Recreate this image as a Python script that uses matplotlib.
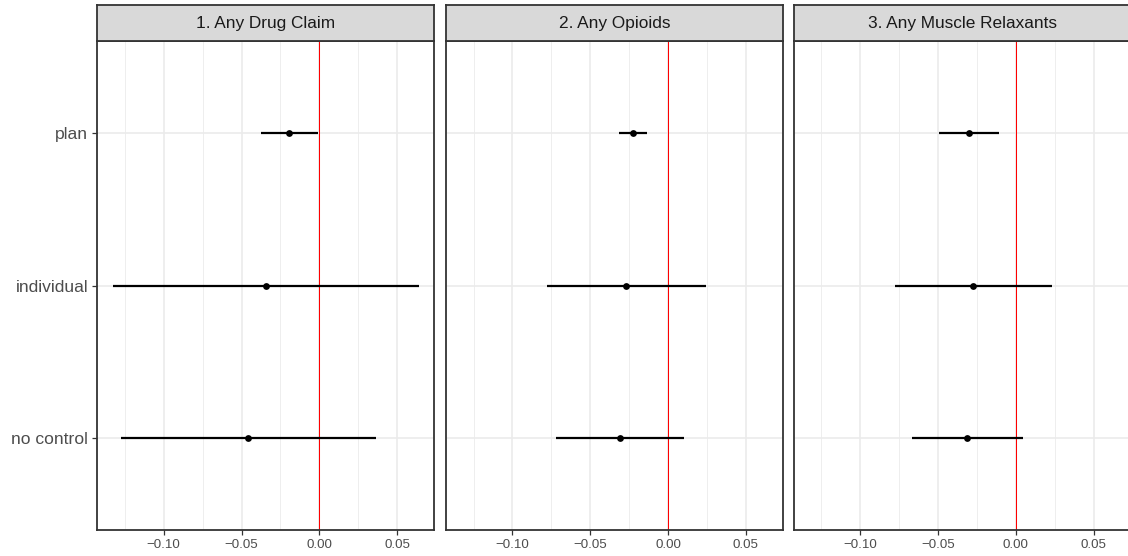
import matplotlib
matplotlib.use("Agg")
import matplotlib.pyplot as plt
from matplotlib.ticker import FixedLocator

plt.rcParams["font.family"] = ["Liberation Sans", "DejaVu Sans"]

# Coefficient estimates with confidence intervals, one panel per outcome
panels = ["1. Any Drug Claim", "2. Any Opioids", "3. Any Muscle Relaxants"]
categories = ["no control", "individual", "plan"]

drug_est = [-0.0460, -0.0343, -0.0193]
drug_lo = [-0.1276, -0.1324, -0.0375]
drug_hi = [0.0362, 0.0643, -0.0010]

opioid_est = [-0.0307, -0.0270, -0.0227]
opioid_lo = [-0.0719, -0.0780, -0.0315]
opioid_hi = [0.0103, 0.0242, -0.0137]

relax_est = [-0.0311, -0.0272, -0.0302]
relax_lo = [-0.0668, -0.0773, -0.0495]
relax_hi = [0.0045, 0.0231, -0.0107]

x_ticks = [-0.10, -0.05, 0.00, 0.05]
x_tick_labels = ["\u22120.10", "\u22120.05", "0.00", "0.05"]
x_minor = [-0.125, -0.075, -0.025, 0.025]

series = [
    (drug_est, drug_lo, drug_hi),
    (opioid_est, opioid_lo, opioid_hi),
    (relax_est, relax_lo, relax_hi),
]

W, H = 1128, 556
fig = plt.figure(figsize=(W / 100, H / 100), dpi=100)
fig.patch.set_facecolor("white")

lefts = [97.3, 446.0, 793.7]
pw = 337.0
top, bottom = 41.3, 530.0
strip_top = 5.3

border = "#333333"
grid_major = "#EBEBEB"

axes = []
for i, (title, (est, lo, hi)) in enumerate(zip(panels, series)):
    left = lefts[i]
    ax = fig.add_axes([left / W, (H - bottom) / H, pw / W, (bottom - top) / H])
    axes.append(ax)
    ax.set_facecolor("white")
    ax.set_xlim(-0.1427, 0.0739)
    ax.set_ylim(0.4, 3.6)
    ypos = list(range(1, len(categories) + 1))

    # grid
    for xv in x_minor:
        ax.axvline(xv, color=grid_major, lw=0.6, zorder=0)
    for xv in x_ticks:
        ax.axvline(xv, color=grid_major, lw=1.2, zorder=0)
    for yv in ypos:
        ax.axhline(yv, color=grid_major, lw=1.2, zorder=0)

    # reference line at zero
    ax.axvline(0, color="#FF0000", lw=0.75, zorder=1)

    # intervals and point estimates
    ax.hlines(ypos, lo, hi, color="black", lw=1.6, zorder=2)
    ax.scatter(est, ypos, s=24, color="black", zorder=3, linewidths=0)

    ax.xaxis.set_major_locator(FixedLocator(x_ticks))
    ax.set_xticklabels(x_tick_labels)
    ax.tick_params(axis="x", length=3.5, width=0.9, color=border,
                   labelsize=9.6, labelcolor="#4D4D4D", pad=3)
    ax.set_yticks(ypos)
    if i == 0:
        ax.set_yticklabels(categories)
        ax.tick_params(axis="y", length=3.5, width=0.9, color=border,
                       labelsize=12.6, labelcolor="#4D4D4D", pad=3)
    else:
        ax.tick_params(axis="y", length=0, labelleft=False)

    for sp in ax.spines.values():
        sp.set_color(border)
        sp.set_linewidth(1.3)

    # facet strip
    sax = fig.add_axes([left / W, (H - top) / H, pw / W, (top - strip_top) / H])
    sax.set_facecolor("#D9D9D9")
    sax.set_xticks([])
    sax.set_yticks([])
    for sp in sax.spines.values():
        sp.set_color(border)
        sp.set_linewidth(1.3)
    sax.text(0.5, 0.5, title, ha="center", va="center", fontsize=12.4,
             color="#1A1A1A", transform=sax.transAxes)

fig.savefig("out.png", dpi=100, facecolor="white")
